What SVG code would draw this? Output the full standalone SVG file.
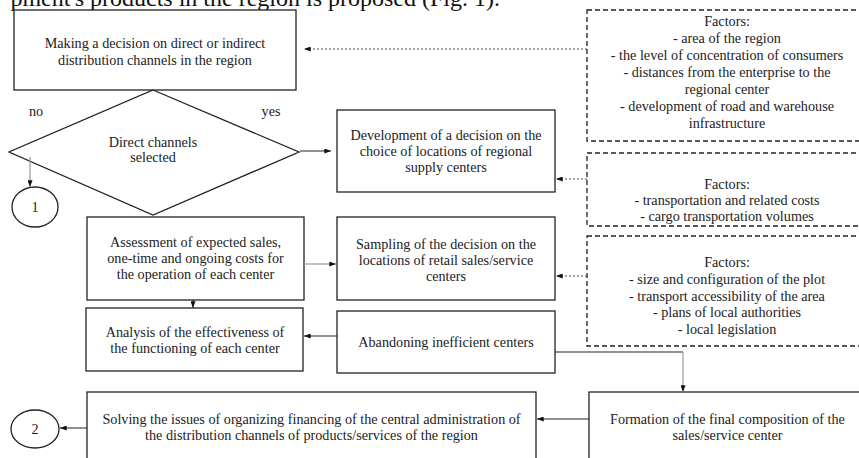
<svg xmlns="http://www.w3.org/2000/svg" width="859" height="458" viewBox="0 0 859 458" font-family="'Liberation Serif', 'Times New Roman', serif">
<defs>
<marker id="ah" viewBox="0 0 8 6" refX="8" refY="3" markerWidth="7" markerHeight="5" markerUnits="userSpaceOnUse" orient="auto"><path d="M0,0 L8,3 L0,6 z" fill="#111"/></marker>
</defs>
<style>
.box{fill:#fff;stroke:#222;stroke-width:1.3}
.dbox{fill:#fff;stroke:#222;stroke-width:1.3;stroke-dasharray:5 3}
.t{font-family:'Liberation Serif','Times New Roman',serif;font-size:14.2px;fill:#222;text-anchor:middle}
.ln{fill:none;stroke:#222;stroke-width:1}
.gl{fill:none;stroke:#999;stroke-width:1.2}
.dl{fill:none;stroke:#444;stroke-width:1;stroke-dasharray:2 2}
</style>
<rect width="859" height="458" fill="#fff"/>
<text x="500" y="6" font-family="'Liberation Serif', 'Times New Roman', serif" font-size="24" fill="#111" text-anchor="end">pment's products in the region is proposed (Fig. 1).</text>

<g id="n-decision">
<rect class="box" x="14" y="10" width="282" height="80"/>
<text class="t" x="155" y="48">Making a decision on direct or indirect</text>
<text class="t" x="155" y="65">distribution channels in the region</text>
</g>
<g id="n-factors1">
<rect class="dbox" x="587" y="10" width="279" height="131"/>
<text class="t" x="727" y="26">Factors:</text>
<text class="t" x="727" y="43">- area of the region</text>
<text class="t" x="727" y="60">- the level of concentration of consumers</text>
<text class="t" x="727" y="77">- distances from the enterprise to the</text>
<text class="t" x="727" y="94">regional center</text>
<text class="t" x="727" y="111">- development of road and warehouse</text>
<text class="t" x="727" y="128">infrastructure</text>
</g>
<g id="n-diamond">
<polygon class="box" points="153,90 299,152 153,215 9,152"/>
<text class="t" x="153" y="147">Direct channels</text>
<text class="t" x="153" y="162">selected</text>
</g>
<g id="n-no"><text class="t" x="36" y="116">no</text></g>
<g id="n-yes"><text class="t" x="271" y="116">yes</text></g>
<g id="n-development">
<rect class="box" x="337" y="110" width="218" height="82"/>
<text class="t" x="446" y="140">Development of a decision on the</text>
<text class="t" x="446" y="156">choice of locations of regional</text>
<text class="t" x="446" y="172">supply centers</text>
</g>
<g id="n-factors2">
<rect class="dbox" x="587" y="153" width="279" height="73"/>
<text class="t" x="727" y="189">Factors:</text>
<text class="t" x="727" y="205">- transportation and related costs</text>
<text class="t" x="727" y="221">- cargo transportation volumes</text>
</g>
<g id="n-c1">
<ellipse class="box" cx="35" cy="207" rx="23" ry="20"/>
<text class="t" x="35" y="212">1</text>
</g>
<g id="n-assessment">
<rect class="box" x="87" y="217" width="217" height="83"/>
<text class="t" x="195.5" y="247">Assessment of expected sales,</text>
<text class="t" x="195.5" y="263">one-time and ongoing costs for</text>
<text class="t" x="195.5" y="279">the operation of each center</text>
</g>
<g id="n-sampling">
<rect class="box" x="337" y="217" width="218" height="83"/>
<text class="t" x="446" y="249">Sampling of the decision on the</text>
<text class="t" x="446" y="265">locations of retail sales/service</text>
<text class="t" x="446" y="281">centers</text>
</g>
<g id="n-factors3">
<rect class="dbox" x="587" y="236" width="279" height="110"/>
<text class="t" x="727" y="267">Factors:</text>
<text class="t" x="727" y="284">- size and configuration of the plot</text>
<text class="t" x="727" y="301">- transport accessibility of the area</text>
<text class="t" x="727" y="317">- plans of local authorities</text>
<text class="t" x="727" y="334">- local legislation</text>
</g>
<g id="n-analysis">
<rect class="box" x="86" y="308" width="217" height="63"/>
<text class="t" x="195" y="337">Analysis of the effectiveness of</text>
<text class="t" x="195" y="353">the functioning of each center</text>
</g>
<g id="n-abandoning">
<rect class="box" x="337" y="311" width="218" height="62"/>
<text class="t" x="446" y="347">Abandoning inefficient centers</text>
</g>
<g id="n-solving">
<rect class="box" x="87" y="392" width="449" height="80"/>
<text class="t" x="311.5" y="424">Solving the issues of organizing financing of the central administration of</text>
<text class="t" x="311.5" y="440">the distribution channels of products/services of the region</text>
</g>
<g id="n-c2">
<ellipse class="box" cx="35" cy="429" rx="24" ry="19"/>
<text class="t" x="35" y="434">2</text>
</g>
<g id="n-formation">
<rect class="box" x="589" y="392" width="277" height="80"/>
<text class="t" x="727.5" y="424">Formation of the final composition of the</text>
<text class="t" x="727.5" y="440">sales/service center</text>
</g>

<g id="connectors">
<line class="dl" x1="587" y1="49" x2="304" y2="49" marker-end="url(#ah)"/>
<line class="ln" x1="300" y1="151" x2="331" y2="151" marker-end="url(#ah)"/>
<line class="dl" x1="587" y1="179" x2="556" y2="179" marker-end="url(#ah)"/>
<line class="gl" x1="30" y1="157" x2="30" y2="187" marker-end="url(#ah)"/>
<line class="gl" x1="304" y1="264" x2="336" y2="264" marker-end="url(#ah)"/>
<line class="dl" x1="587" y1="276" x2="556" y2="276" marker-end="url(#ah)"/>
<line class="ln" x1="193" y1="300" x2="193" y2="308" marker-end="url(#ah)"/>
<line class="ln" x1="337" y1="336" x2="304" y2="336" marker-end="url(#ah)"/>
<line class="ln" x1="555" y1="352" x2="683" y2="352"/>
<line class="gl" x1="683" y1="352" x2="683" y2="392" marker-end="url(#ah)"/>
<line class="ln" x1="589" y1="419" x2="537" y2="419" marker-end="url(#ah)"/>
<line class="ln" x1="87" y1="428" x2="60" y2="428" marker-end="url(#ah)"/>
</g>
</svg>
